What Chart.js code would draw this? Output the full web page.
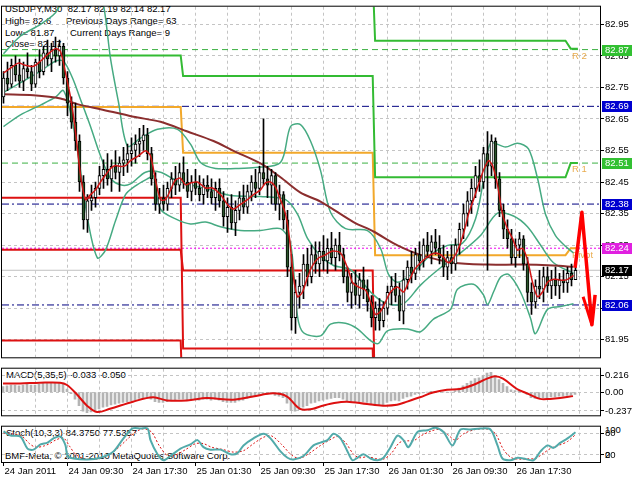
<!DOCTYPE html>
<html>
<head>
<meta charset="utf-8">
<title>USDJPY M30</title>
<script src="https://cdn.jsdelivr.net/npm/chart.js@4.4.1/dist/chart.umd.min.js"></script>
<style>
  html, body { margin: 0; padding: 0; background: #fff; }
  #wrap { position: relative; width: 640px; height: 480px; overflow: hidden;
          font-family: "Liberation Sans", Arial, sans-serif; font-size: 9.5px; }
  #wrap canvas { position: absolute; left: 0; }
  .txt { position: absolute; white-space: pre; color: #000; line-height: 11px; }
</style>
</head>
<body>
<div id="wrap">
  <div class="txt" style="left:5px;top:3px">USDJPY,M30  82.17 82.19 82.14 82.17</div>
  <div class="txt" style="left:5px;top:14.5px">High= 82.6</div>
  <div class="txt" style="left:66px;top:14.5px">Previous Days Range= 63</div>
  <div class="txt" style="left:5px;top:26.5px">Low= 81.87</div>
  <div class="txt" style="left:70px;top:26.5px">Current Days Range= 9</div>
  <div class="txt" style="left:5px;top:38px">Close= 82.17</div>
  <div class="txt" style="left:6px;top:368.5px">MACD(5,35,5) -0.033 -0.050</div>
  <div class="txt" style="left:6px;top:426.5px">Stoch(10,3,3) 84.3750 77.5357</div>
  <div class="txt" style="left:5px;top:449.5px">BMF-Meta, © 2001-2010 MetaQuotes Software Corp.</div>
  <div class="txt" style="left:605px;top:424px">100</div>
  <div class="txt" style="left:605px;top:448.5px">0</div>
  <canvas id="main" width="640" height="364" style="top:0"></canvas>
  <canvas id="macd" width="640" height="60" style="top:362px"></canvas>
  <canvas id="stoch" width="640" height="60" style="top:420px"></canvas>
</div>
<script>
// ── Axis ranges (bar index on x, price on y) ───────────────────────────────
const X_MIN = -0.375, X_MAX = 149.125;
const PRICE_MIN = 81.894, PRICE_MAX = 83.006;
const MACD_MIN = -0.292, MACD_MAX = 0.296;

const PRICE_TICKS = [81.95, 82.05, 82.15, 82.25, 82.35, 82.45, 82.55, 82.65, 82.75, 82.85, 82.95];
const GRID_BARS = [0, 8, 16, 24, 32, 40, 48, 56, 64, 72, 80, 88, 96, 104, 112, 120, 128, 136, 144];
const TIME_BARS = [0, 16, 32, 48, 64, 80, 96, 112, 128];
const TIME_LABELS = ["24 Jan 2011", "24 Jan 09:30", "24 Jan 17:30", "25 Jan 01:30", "25 Jan 09:30",
                     "25 Jan 17:30", "26 Jan 01:30", "26 Jan 09:30", "26 Jan 17:30"];
const MACD_TICKS = [-0.237, 0, 0.216];
const MACD_TICK_LABELS = ["-0.237", "0.00", "0.216"];
const STOCH_TICKS = [20, 80];

// ── Candles (M30 bars) ──────────────────────────────────────────────────────
const OPEN = [
  82.72, 82.78, 82.76, 82.82, 82.79, 82.77, 82.81, 82.80, 82.76, 82.83,
  82.80, 82.86, 82.84, 82.87, 82.85, 82.88, 82.78, 82.70, 82.64, 82.58,
  82.45, 82.33, 82.39, 82.40, 82.43, 82.47, 82.49, 82.46, 82.50, 82.48,
  82.51, 82.52, 82.54, 82.55, 82.57, 82.58, 82.60, 82.54, 82.46, 82.38,
  82.40, 82.38, 82.43, 82.46, 82.44, 82.48, 82.45, 82.42, 82.45, 82.43,
  82.41, 82.44, 82.42, 82.40, 82.43, 82.39, 82.34, 82.37, 82.32, 82.36,
  82.40, 82.37, 82.42, 82.45, 82.43, 82.48, 82.46, 82.44, 82.47, 82.38,
  82.41, 82.33, 82.18, 82.02, 82.10, 82.12, 82.19, 82.15, 82.22, 82.19,
  82.23, 82.20, 82.24, 82.21, 82.25, 82.22, 82.15, 82.10, 82.13, 82.09,
  82.14, 82.11, 82.07, 82.02, 82.05, 82.01, 82.05, 82.10, 82.12, 82.09,
  82.04, 82.14, 82.18, 82.16, 82.22, 82.20, 82.25, 82.23, 82.26, 82.24,
  82.21, 82.18, 82.21, 82.19, 82.25, 82.30, 82.35, 82.39, 82.43, 82.47,
  82.45, 82.54, 82.50, 82.58, 82.46, 82.36, 82.30, 82.27, 82.21, 82.25,
  82.27, 82.19, 82.10, 82.07, 82.12, 82.11, 82.15, 82.12, 82.14, 82.12,
  82.14, 82.13, 82.16, 82.14
];
const HIGH = [
  82.80, 82.83, 82.84, 82.85, 82.84, 82.83, 82.86, 82.82, 82.84, 82.87,
  82.88, 82.90, 82.89, 82.91, 82.90, 82.89, 82.80, 82.72, 82.70, 82.60,
  82.47, 82.41, 82.44, 82.45, 82.50, 82.52, 82.54, 82.52, 82.55, 82.53,
  82.56, 82.57, 82.59, 82.60, 82.62, 82.63, 82.62, 82.56, 82.48, 82.43,
  82.44, 82.45, 82.48, 82.50, 82.51, 82.53, 82.49, 82.47, 82.49, 82.47,
  82.46, 82.47, 82.46, 82.45, 82.46, 82.42, 82.40, 82.41, 82.39, 82.42,
  82.44, 82.44, 82.47, 82.49, 82.50, 82.65, 82.50, 82.49, 82.48, 82.44,
  82.42, 82.36, 82.22, 82.14, 82.16, 82.22, 82.24, 82.25, 82.26, 82.26,
  82.28, 82.27, 82.29, 82.27, 82.29, 82.24, 82.18, 82.16, 82.17, 82.16,
  82.18, 82.14, 82.09, 82.07, 82.08, 82.07, 82.12, 82.15, 82.16, 82.13,
  82.17, 82.20, 82.23, 82.24, 82.26, 82.27, 82.29, 82.28, 82.30, 82.28,
  82.25, 82.23, 82.25, 82.27, 82.32, 82.38, 82.42, 82.46, 82.50, 82.52,
  82.56, 82.61, 82.60, 82.59, 82.48, 82.38, 82.33, 82.30, 82.27, 82.29,
  82.28, 82.21, 82.13, 82.14, 82.17, 82.18, 82.18, 82.17, 82.18, 82.16,
  82.17, 82.18, 82.19, 82.19
];
const LOW = [
  82.70, 82.74, 82.75, 82.77, 82.75, 82.74, 82.78, 82.74, 82.75, 82.78,
  82.79, 82.82, 82.80, 82.83, 82.82, 82.76, 82.66, 82.62, 82.55, 82.42,
  82.30, 82.29, 82.36, 82.37, 82.41, 82.43, 82.44, 82.42, 82.46, 82.42,
  82.47, 82.48, 82.50, 82.51, 82.53, 82.55, 82.52, 82.44, 82.36, 82.35,
  82.36, 82.36, 82.40, 82.41, 82.42, 82.43, 82.40, 82.39, 82.41, 82.39,
  82.38, 82.40, 82.38, 82.36, 82.37, 82.31, 82.29, 82.30, 82.28, 82.33,
  82.35, 82.35, 82.39, 82.40, 82.41, 82.44, 82.40, 82.38, 82.36, 82.33,
  82.30, 82.15, 81.98, 81.97, 82.05, 82.08, 82.12, 82.13, 82.16, 82.15,
  82.17, 82.16, 82.19, 82.17, 82.20, 82.13, 82.07, 82.05, 82.06, 82.05,
  82.08, 82.04, 81.99, 81.98, 81.98, 81.99, 82.03, 82.06, 82.07, 82.01,
  82.00, 82.11, 82.13, 82.14, 82.17, 82.18, 82.21, 82.19, 82.22, 82.19,
  82.15, 82.14, 82.16, 82.17, 82.22, 82.27, 82.31, 82.35, 82.40, 82.42,
  82.43, 82.17, 82.47, 82.43, 82.34, 82.27, 82.24, 82.19, 82.18, 82.21,
  82.17, 82.07, 82.03, 82.05, 82.08, 82.07, 82.10, 82.08, 82.09, 82.08,
  82.10, 82.10, 82.12, 82.14
];
const CLOSE = [
  82.78, 82.76, 82.82, 82.79, 82.77, 82.81, 82.80, 82.76, 82.83, 82.80,
  82.86, 82.84, 82.87, 82.85, 82.88, 82.78, 82.70, 82.64, 82.58, 82.45,
  82.33, 82.39, 82.40, 82.43, 82.47, 82.49, 82.46, 82.50, 82.48, 82.51,
  82.52, 82.54, 82.55, 82.57, 82.58, 82.60, 82.54, 82.46, 82.38, 82.40,
  82.38, 82.43, 82.46, 82.44, 82.48, 82.45, 82.42, 82.45, 82.43, 82.41,
  82.44, 82.42, 82.40, 82.43, 82.39, 82.34, 82.37, 82.32, 82.36, 82.40,
  82.37, 82.42, 82.45, 82.43, 82.48, 82.46, 82.44, 82.47, 82.38, 82.41,
  82.33, 82.18, 82.02, 82.10, 82.12, 82.19, 82.15, 82.22, 82.19, 82.23,
  82.20, 82.24, 82.21, 82.25, 82.22, 82.15, 82.10, 82.13, 82.09, 82.14,
  82.11, 82.07, 82.02, 82.05, 82.01, 82.05, 82.10, 82.12, 82.09, 82.04,
  82.14, 82.18, 82.16, 82.22, 82.20, 82.25, 82.23, 82.26, 82.24, 82.21,
  82.18, 82.21, 82.19, 82.25, 82.30, 82.35, 82.39, 82.43, 82.47, 82.45,
  82.54, 82.50, 82.58, 82.46, 82.36, 82.30, 82.27, 82.21, 82.25, 82.27,
  82.19, 82.10, 82.07, 82.12, 82.11, 82.15, 82.12, 82.14, 82.12, 82.14,
  82.13, 82.16, 82.14, 82.17
];

// ── Indicator lines on the price panel: [bar index, price] ─────────────────
const BB_UPPER = [[0, 82.857], [4.25, 82.913], [9.25, 82.95], [13, 82.987], [14.75, 83.027], [19.25, 83.135],
  [23, 83.089], [25, 83.012], [26.75, 82.842], [28.75, 82.703], [31, 82.564], [34.25, 82.589], [38.5, 82.617],
  [43.5, 82.617], [46.75, 82.570], [49.25, 82.512], [53, 82.493], [58, 82.493], [63, 82.496], [69.25, 82.512],
  [71.75, 82.626], [74.25, 82.632], [76.75, 82.580], [79.25, 82.487], [81.75, 82.354], [85.5, 82.302],
  [91, 82.296], [94.25, 82.240], [96.25, 82.157], [98.5, 82.132], [102.5, 82.163], [106.75, 82.219],
  [111, 82.249], [114.75, 82.256], [118, 82.333], [120, 82.456], [121.75, 82.573], [125.5, 82.561],
  [128.5, 82.573], [131.25, 82.555], [133.5, 82.462], [135.5, 82.348], [138, 82.280], [140.5, 82.246], [142.5, 82.225]];
const BB_MIDDLE = [[0, 82.734], [4.25, 82.765], [9.25, 82.802], [13, 82.833], [15, 82.833], [17.25, 82.780],
  [19.25, 82.712], [21.75, 82.626], [24.25, 82.533], [26.75, 82.462], [29.25, 82.441], [31.75, 82.444],
  [35.5, 82.481], [39.25, 82.481], [43, 82.456], [46.75, 82.441], [51.75, 82.425], [56.75, 82.407],
  [64.25, 82.404], [70.5, 82.394], [73.5, 82.348], [76, 82.271], [79.25, 82.215], [82.5, 82.185],
  [86.75, 82.172], [92.5, 82.092], [96, 82.064], [100, 82.064], [104.25, 82.123], [109.25, 82.178],
  [114.25, 82.225], [119.25, 82.280], [123.5, 82.351], [127.5, 82.342], [131, 82.308], [134.25, 82.250],
  [137.5, 82.194], [142.5, 82.160]];
const BB_LOWER = [[0, 82.626], [4.25, 82.663], [9.25, 82.694], [13, 82.719], [15, 82.740], [17.25, 82.641],
  [19.25, 82.487], [21.25, 82.317], [23.5, 82.209], [25.5, 82.234], [28, 82.327], [30.5, 82.410], [33, 82.438],
  [36.25, 82.462], [37.5, 82.469], [39.25, 82.364], [43, 82.333], [46.75, 82.317], [50.5, 82.323],
  [54.25, 82.308], [59.25, 82.296], [64.25, 82.296], [69.25, 82.302], [71.75, 82.256], [73.5, 82.024],
  [75, 81.972], [79.25, 81.962], [81.75, 81.999], [85.5, 82.002], [88.5, 81.984], [91.75, 81.947],
  [93.75, 81.938], [96, 81.978], [101, 81.984], [104.25, 81.975], [107.5, 82.015], [111.75, 82.046],
  [113.5, 82.110], [117.5, 82.126], [120, 82.092], [121, 82.061], [122.5, 82.101], [124.25, 82.148],
  [126.25, 82.157], [129.25, 82.101], [131.75, 82.018], [133, 81.969], [136, 82.046], [139.25, 82.055], [142.5, 82.064]];
const SLOW_MA = [[0, 82.728], [7.5, 82.725], [14.25, 82.715], [18.5, 82.697], [24.25, 82.681], [32.5, 82.657],
  [39.25, 82.641], [46, 82.610], [52.5, 82.580], [57.5, 82.549], [64.25, 82.509], [69.25, 82.465],
  [74.25, 82.416], [79.25, 82.388], [87.5, 82.323], [92.5, 82.293], [98.5, 82.249], [104.25, 82.219],
  [112.5, 82.194], [121, 82.188], [129.25, 82.188], [137.5, 82.185], [142.5, 82.181]];
const FAST_MA = [[0, 82.796], [1.75, 82.811], [3.75, 82.827], [5.5, 82.820], [7.5, 82.817], [9.25, 82.833],
  [11.25, 82.857], [13, 82.873], [14.25, 82.864], [15.5, 82.796], [16.75, 82.719], [18, 82.610], [19.25, 82.472],
  [20.5, 82.394], [21.75, 82.410], [23, 82.425], [24.25, 82.450], [25.5, 82.472], [26.75, 82.493], [28, 82.502],
  [29.25, 82.499], [30.5, 82.502], [31.75, 82.518], [33.75, 82.533], [35.5, 82.549], [36.75, 82.533],
  [38, 82.456], [39.25, 82.394], [40.5, 82.394], [41.75, 82.425], [43, 82.456], [44.25, 82.462], [45.5, 82.441],
  [46.75, 82.447], [48.5, 82.450], [50.5, 82.431], [52.25, 82.431], [54.25, 82.410], [56, 82.379],
  [57.5, 82.364], [59.25, 82.379], [61, 82.394], [62.5, 82.410], [64.25, 82.425], [65.5, 82.447],
  [66.75, 82.450], [68, 82.434], [69.25, 82.394], [70.5, 82.348], [71.5, 82.271], [72.5, 82.148],
  [73.5, 82.086], [74.75, 82.101], [76, 82.148], [77.25, 82.185], [78.75, 82.209], [80.5, 82.219],
  [82.25, 82.231], [84.25, 82.225], [86, 82.178], [87.25, 82.132], [88.75, 82.117], [90.5, 82.107],
  [91.75, 82.070], [93, 82.030], [94.25, 82.039], [95.5, 82.070], [96.75, 82.101], [98.5, 82.117],
  [100, 82.101], [101.25, 82.132], [102.75, 82.172], [104.25, 82.194], [106.25, 82.215], [108, 82.225],
  [109.75, 82.215], [111.25, 82.194], [112.5, 82.209], [113.75, 82.240], [115, 82.286], [116.25, 82.348],
  [117.5, 82.394], [118.75, 82.441], [120, 82.487], [121.25, 82.518], [122.25, 82.502], [123.5, 82.441],
  [124.75, 82.348], [126, 82.302], [127.25, 82.271], [128.5, 82.234], [129.75, 82.240], [131, 82.203],
  [132.25, 82.132], [133.5, 82.086], [134.75, 82.101], [136, 82.132], [137.25, 82.141], [138.5, 82.141],
  [139.75, 82.138], [141, 82.141], [142.5, 82.154]];

// daily pivot levels (steps at the day changes)
const R2_STEPS = [[X_MIN, 83.10], [92.3, 83.10], [92.9, 82.898], [140.5, 82.898], [141.8, 82.873], [143.6, 82.873]];
const R1_STEPS = [[X_MIN, 82.851], [44.3, 82.851], [44.9, 82.786], [92.3, 82.786], [92.9, 82.465],
  [140.5, 82.465], [141.8, 82.51], [143.6, 82.51]];
const PIVOT_STEPS = [[X_MIN, 82.688], [44.3, 82.688], [44.9, 82.543], [92.3, 82.543], [92.9, 82.218],
  [140.5, 82.218], [141.8, 82.24], [143.6, 82.24]];
const S1_STEPS = [[X_MIN, 82.235], [44.3, 82.235], [44.9, 82.169], [92.3, 82.169], [92.9, 81.70], [143.6, 81.70]];
const S2_STEPS = [[X_MIN, 82.40], [44.3, 82.40], [44.9, 81.922], [92.3, 81.922], [92.9, 81.60], [143.6, 81.60]];
const S3_STEPS = [[X_MIN, 81.947], [44.3, 81.947], [44.9, 81.70], [143.6, 81.70]];

// forecast arrow
const ARROW = [[142.9, 82.178], [144.6, 82.354], [147.1, 81.997], [147.9, 82.092]];
const ARROW_HEAD = [[144.9, 82.086], [147.1, 81.997]];

// horizontal levels with price tags
const LEVEL_PRICES = [82.87, 82.69, 82.51, 82.38, 82.24, 82.17, 82.06];
const LEVEL_COLORS = ["#3cb043", "#000080", "#3cb043", "#000080", "#ee00ee", "#c0c0c0", "#000080"];
const TAG_COLORS = ["#32c032", "#0000d0", "#32c032", "#0000d0", "#e020e0", "#000000", "#0000d0"];
const LEVEL_NAMES = ["R 2", "R 1", "Pivot"];
const LEVEL_NAME_PRICES = [82.87, 82.51, 82.24];

// ── MACD(5,35,5) ────────────────────────────────────────────────────────────
const MACD_HIST = [
  0.07, 0.08, 0.09, 0.09, 0.08, 0.09, 0.10, 0.09, 0.09, 0.10,
  0.11, 0.11, 0.12, 0.12, 0.12, 0.10, 0.04, -0.02, -0.09, -0.17,
  -0.24, -0.26, -0.25, -0.23, -0.21, -0.19, -0.18, -0.16, -0.15, -0.14,
  -0.13, -0.12, -0.11, -0.10, -0.08, -0.07, -0.07, -0.09, -0.12, -0.13,
  -0.13, -0.12, -0.10, -0.10, -0.09, -0.09, -0.10, -0.09, -0.09, -0.10,
  -0.09, -0.09, -0.10, -0.09, -0.10, -0.12, -0.13, -0.13, -0.13, -0.11,
  -0.10, -0.08, -0.06, -0.05, -0.04, -0.03, -0.03, -0.02, -0.04, -0.05,
  -0.07, -0.14, -0.23, -0.24, -0.22, -0.19, -0.17, -0.14, -0.13, -0.11,
  -0.10, -0.09, -0.08, -0.07, -0.07, -0.09, -0.12, -0.12, -0.13, -0.12,
  -0.12, -0.13, -0.16, -0.17, -0.17, -0.16, -0.13, -0.11, -0.10, -0.11,
  -0.08, -0.06, -0.05, -0.03, -0.02, -0.01, 0.00, 0.01, 0.01, 0.01,
  0.00, 0.00, 0.00, 0.02, 0.05, 0.08, 0.11, 0.14, 0.17, 0.18,
  0.21, 0.24, 0.25, 0.21, 0.16, 0.11, 0.07, 0.03, 0.02, 0.02,
  0.01, -0.03, -0.07, -0.08, -0.08, -0.07, -0.07, -0.06, -0.06, -0.05,
  -0.05, -0.04, -0.04, -0.03
];
const MACD_SIGNAL = [[0, 0.11], [4.25, 0.11], [9.25, 0.12], [14.25, 0.12], [16, 0.09], [18.5, -0.03], [21, -0.17],
  [23.5, -0.25], [26.75, -0.21], [32.5, -0.12], [37.5, -0.065], [41, -0.105], [46, -0.105], [51, -0.075],
  [57.5, -0.095], [62.5, -0.055], [67.5, -0.015], [71, -0.055], [74.25, -0.21], [77.5, -0.21], [79.25, -0.18],
  [82.5, -0.14], [86, -0.12], [91, -0.15], [95, -0.17], [98.5, -0.16], [101, -0.12], [104.25, -0.065],
  [107.5, -0.005], [111, 0.03], [114.25, 0.04], [117.5, 0.09], [121, 0.17], [123, 0.20], [125, 0.17],
  [128.5, 0.04], [131, -0.015], [134.25, -0.085], [136.75, -0.085], [139.25, -0.075], [142.5, -0.05]];

// ── Stochastic(10,3,3) ──────────────────────────────────────────────────────
const STOCH_K = [[0, 87], [1.75, 75], [4.25, 72], [6, 38], [7.5, 35], [9.25, 50], [11, 55], [12.5, 67], [14.25, 72],
  [15.5, 47], [16, 17], [17.5, 10], [21, 7], [24.25, 12], [27.5, 30], [30, 67], [32.25, 95], [34.25, 95], [36, 95],
  [36.75, 62], [38.5, 22], [40, 5], [41.75, 17], [44.25, 38], [46.75, 50], [48.5, 62], [50, 42], [51.75, 35],
  [54.25, 35], [56.75, 22], [58.5, 25], [60, 47], [62.5, 67], [65, 80], [66.75, 67], [69.25, 30], [71, 12],
  [72.5, 7], [75, 17], [77.5, 47], [79.25, 55], [81, 62], [82.5, 80], [84.25, 67], [86, 30], [87.25, 5],
  [88.5, 12], [90, 22], [91.75, 10], [93.5, 5], [95, 12], [96.75, 42], [98.5, 75], [100, 62], [101.25, 42],
  [103.5, 85], [106, 90], [108, 97], [110, 85], [112.25, 47], [114.25, 92], [116.75, 92], [119.25, 95],
  [121.75, 92], [123.5, 47], [124.75, 10], [126.75, 5], [128.5, 12], [130, 10], [132.5, 5], [134.25, 30],
  [136, 47], [137.5, 40], [139.25, 55], [141, 67], [143, 84.375]];
const STOCH_D = [[0, 82], [2, 80], [4.5, 74], [6.5, 52], [8, 42], [10, 45], [11.5, 52], [13, 62], [15, 68],
  [16.5, 45], [18, 22], [20, 10], [23, 8], [26, 18], [28.5, 38], [31, 65], [33, 85], [35, 94], [37, 85], [39, 45],
  [41, 18], [43, 20], [45.5, 35], [48, 52], [50, 52], [52, 42], [55, 35], [57.5, 28], [60, 32], [62.5, 52],
  [65, 70], [67, 74], [69.5, 50], [72, 20], [74, 10], [76.5, 25], [79, 45], [81.5, 62], [83.5, 72], [85.5, 55],
  [87.5, 22], [89, 12], [91, 15], [93, 10], [95, 8], [97, 25], [99, 55], [101, 60], [102.5, 60], [104.5, 75],
  [107, 88], [109, 92], [111, 78], [113, 62], [115, 80], [118, 92], [121, 93], [123, 80], [125, 35], [127, 12],
  [129, 8], [131, 9], [133, 10], [135, 25], [137, 40], [139, 48], [141, 58], [143, 77.5357]];

// ── Helpers ─────────────────────────────────────────────────────────────────
const FONT_FAMILY = '"Liberation Sans", Arial, sans-serif';
const tickFont = { family: FONT_FAMILY, size: 9.5 };
const GRID_COLOR = "#c4c4c4";

const pts = arr => arr.map(([x, y]) => ({ x, y }));

function lineSet(points, color, width, extra) {
  return Object.assign({
    type: "line", data: pts(points), borderColor: color, borderWidth: width,
    pointRadius: 0, tension: 0, fill: false,
  }, extra || {});
}

function xAxis(shift, showLabels) {
  return {
    type: "linear", min: X_MIN + shift, max: X_MAX + shift, offset: false,
    afterBuildTicks: s => { s.ticks = GRID_BARS.map(v => ({ value: v })); },
    afterFit: s => { s.height = showLabels ? 18 : 0; },
    ticks: {
      display: showLabels, autoSkip: false, maxRotation: 0, align: "start", labelOffset: 1, padding: 0,
      color: "#000", font: tickFont,
      callback: v => { const k = TIME_BARS.indexOf(v); return k >= 0 ? TIME_LABELS[k] : ""; },
    },
    grid: {
      offset: false, drawTicks: showLabels, tickLength: 4,
      color: c => (c.tick && c.tick.value === 0 ? "rgba(0,0,0,0)" : GRID_COLOR),
      tickColor: c => (c.tick && TIME_BARS.includes(c.tick.value) ? "#000" : "rgba(0,0,0,0)"),
    },
    border: { display: false, dash: [3, 3] },
  };
}

function yAxis(min, max, tickValues, labelFn) {
  return {
    position: "right", min, max, beginAtZero: false,
    afterBuildTicks: s => { s.ticks = tickValues.map(v => ({ value: v })); },
    afterFit: s => { s.width = 40; },
    ticks: { autoSkip: false, color: "#000", font: tickFont, padding: 1, callback: labelFn },
    grid: { color: GRID_COLOR, tickColor: "#000", tickLength: 4 },
    border: { display: false, dash: [3, 3] },
  };
}

const framePlugin = {
  id: "frame",
  afterDraw(chart) {
    const { ctx, chartArea: a } = chart;
    ctx.save();
    ctx.strokeStyle = "#000";
    ctx.lineWidth = 1;
    ctx.strokeRect(a.left - 0.5, a.top - 0.5, a.right - a.left + 1, a.bottom - a.top + 1);
    ctx.restore();
  },
};

const levelTextPlugin = {
  id: "levelText",
  beforeDatasetsDraw(chart) {
    const { ctx, scales: { x, y } } = chart;
    ctx.save();
    ctx.font = "9.5px " + FONT_FAMILY;
    ctx.fillStyle = "#e9ac4e";
    ctx.textBaseline = "top";
    LEVEL_NAMES.forEach((t, k) => {
      ctx.fillText(t, x.getPixelForValue(142.1), y.getPixelForValue(LEVEL_NAME_PRICES[k]) + 2);
    });
    ctx.restore();
  },
};

const priceTagPlugin = {
  id: "priceTags",
  afterDraw(chart) {
    const { ctx, chartArea: a, scales: { y } } = chart;
    ctx.save();
    ctx.font = "9.5px " + FONT_FAMILY;
    ctx.textBaseline = "middle";
    LEVEL_PRICES.forEach((p, k) => {
      const py = Math.round(y.getPixelForValue(p));
      ctx.fillStyle = TAG_COLORS[k];
      ctx.fillRect(a.right + 2, py - 5, 30, 11);
      ctx.fillStyle = "#fff";
      ctx.fillText(p.toFixed(2), a.right + 5, py + 0.5);
    });
    ctx.restore();
  },
};

const common = {
  responsive: false, animation: false, events: [], devicePixelRatio: 1,
  plugins: { legend: { display: false }, tooltip: { enabled: false } },
};

// ── Price panel ─────────────────────────────────────────────────────────────
const mainSets = [];
LEVEL_PRICES.forEach((p, k) => {
  const dash = k === 4 ? [2, 2] : (k === 5 ? [] : (LEVEL_COLORS[k] === "#000080" ? [7, 3, 2, 3] : [6, 4]));
  mainSets.push(lineSet([[X_MIN, p], [X_MAX, p]], LEVEL_COLORS[k], 1, { borderDash: dash, order: 30 }));
});
mainSets.push(lineSet(R2_STEPS, "#33bb33", 2, { order: 20 }));
mainSets.push(lineSet(R1_STEPS, "#33bb33", 2, { order: 20 }));
mainSets.push(lineSet(PIVOT_STEPS, "#f2a82a", 2, { order: 20 }));
mainSets.push(lineSet(S1_STEPS, "#dd1111", 2, { order: 20 }));
mainSets.push(lineSet(S2_STEPS, "#dd1111", 2, { order: 20 }));
mainSets.push(lineSet(S3_STEPS, "#dd1111", 2, { order: 20 }));
mainSets.push(lineSet(BB_UPPER, "#46aa82", 1.5, { tension: 0.3, order: 12 }));
mainSets.push(lineSet(BB_MIDDLE, "#46aa82", 1.5, { tension: 0.3, order: 12 }));
mainSets.push(lineSet(BB_LOWER, "#46aa82", 1.5, { tension: 0.3, order: 12 }));
mainSets.push(lineSet(SLOW_MA, "#8b2e2e", 2, { tension: 0.3, order: 11 }));
mainSets.push({
  type: "bar", data: HIGH.map((h, i) => ({ x: i, y: [LOW[i], h] })),
  backgroundColor: "#000", barThickness: 1, grouped: false, order: 8,
});
mainSets.push({
  type: "bar", data: OPEN.map((o, i) => ({ x: i, y: [o, CLOSE[i]] })),
  backgroundColor: OPEN.map((o, i) => (CLOSE[i] >= o ? "#ffffff" : "#2a552a")),
  borderColor: "#000", borderWidth: 1, borderSkipped: false, barThickness: 3, grouped: false, order: 7,
});
mainSets.push(lineSet(FAST_MA, "#d01515", 1.5, { tension: 0.25, order: 5 }));
mainSets.push(lineSet(ARROW, "#ff0000", 3.5, { order: 1, borderJoinStyle: "round" }));
mainSets.push(lineSet(ARROW_HEAD, "#ff0000", 3, { order: 1 }));

new Chart(document.getElementById("main"), {
  type: "bar",
  data: { datasets: mainSets },
  options: Object.assign({}, common, {
    layout: { padding: { left: 2, top: 2, bottom: 2, right: 0 } },
    scales: {
      x: xAxis(0, false),
      y: yAxis(PRICE_MIN, PRICE_MAX, PRICE_TICKS, v => v.toFixed(2)),
    },
  }),
  plugins: [levelTextPlugin, framePlugin, priceTagPlugin],
});

// ── MACD panel ──────────────────────────────────────────────────────────────
new Chart(document.getElementById("macd"), {
  type: "bar",
  data: {
    datasets: [
      lineSet(MACD_SIGNAL, "#dd1010", 2, { tension: 0.35, order: 1 }),
      { type: "bar", data: MACD_HIST.map((v, i) => ({ x: i, y: v })), backgroundColor: "#b4b4b4",
        barThickness: 2, grouped: false, order: 2 },
    ],
  },
  options: Object.assign({}, common, {
    layout: { padding: { left: 2, top: 1, bottom: 2, right: 0 } },
    scales: {
      x: xAxis(0.125, false),
      y: yAxis(MACD_MIN, MACD_MAX, MACD_TICKS, v => MACD_TICK_LABELS[MACD_TICKS.indexOf(v)]),
    },
  }),
  plugins: [framePlugin],
});

// ── Stochastic panel ────────────────────────────────────────────────────────
new Chart(document.getElementById("stoch"), {
  type: "line",
  data: {
    datasets: [
      lineSet(STOCH_D, "#dd1010", 1, { borderDash: [2, 2], tension: 0.3, order: 2 }),
      lineSet(STOCH_K, "#52aaaa", 2, { tension: 0.3, order: 1 }),
    ],
  },
  options: Object.assign({}, common, {
    layout: { padding: { left: 2, top: 2, bottom: 0, right: 0 } },
    scales: {
      x: xAxis(0, true),
      y: yAxis(0, 100, STOCH_TICKS, v => String(v)),
    },
  }),
  plugins: [framePlugin],
});
</script>
</body>
</html>
